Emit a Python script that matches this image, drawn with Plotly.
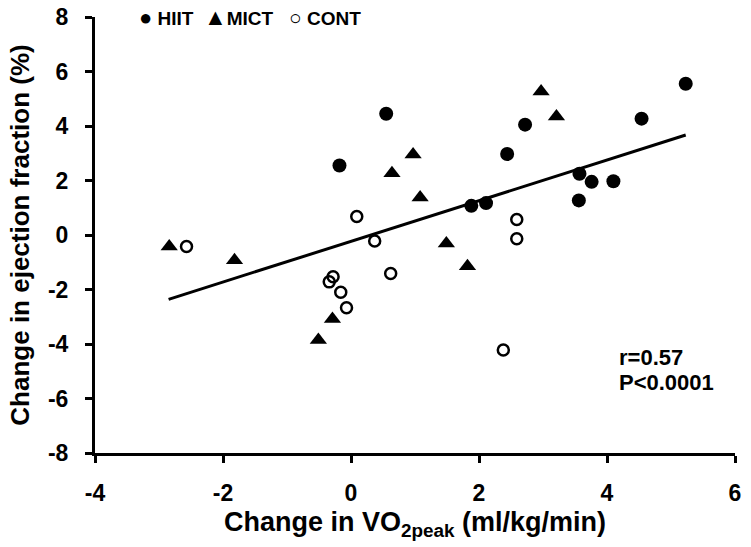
import plotly.graph_objects as go

# HIIT (filled circles)
hiit_x = [0.55, -0.18, 5.23, 2.72, 4.54, 2.44, 3.57, 3.76, 4.10, 3.56, 1.88, 2.11]
hiit_y = [4.45, 2.55, 5.55, 4.05, 4.27, 2.97, 2.25, 1.95, 1.97, 1.27, 1.07, 1.17]

# MICT (filled triangles)
mict_x = [0.97, 0.64, 1.08, -2.84, -1.82, 1.49, 2.97, 3.21, 1.82, -0.29, -0.51]
mict_y = [2.95, 2.27, 1.38, -0.42, -0.93, -0.31, 5.27, 4.35, -1.15, -3.08, -3.85]

# CONT (open circles)
cont_x = [0.09, -2.57, 0.37, 0.62, -0.28, -0.34, -0.16, -0.07, 2.59, 2.59, 2.38]
cont_y = [0.68, -0.42, -0.22, -1.41, -1.53, -1.72, -2.10, -2.67, 0.57, -0.14, -4.22]

# regression line endpoints
fit_x = [-2.85, 5.23]
fit_y = [-2.36, 3.67]

x_ticks = [-4, -2, 0, 2, 4, 6]
y_ticks = [-8, -6, -4, -2, 0, 2, 4, 6, 8]

legend_symbols = ["●", "▲", "○"]
legend_names = ["HIIT", "MICT", "CONT"]

FONT = "Liberation Sans, Arial, sans-serif"

fig = go.Figure()
fig.add_trace(go.Scatter(x=fit_x, y=fit_y, mode="lines",
                         line=dict(color="black", width=3), showlegend=False))
fig.add_trace(go.Scatter(x=hiit_x, y=hiit_y, mode="markers", name="HIIT",
                         marker=dict(symbol="circle", size=14, color="black")))
fig.add_trace(go.Scatter(x=mict_x, y=mict_y, mode="markers", name="MICT",
                         marker=dict(symbol="triangle-up", size=15, color="black")))
fig.add_trace(go.Scatter(x=cont_x, y=cont_y, mode="markers", name="CONT",
                         marker=dict(symbol="circle-open", size=11, color="black",
                                     line=dict(width=2.5, color="black"))))

# legend row (symbols + names as text, as in the original)
sym_sizes = [22, 23, 21]
seps = [" ", "", " "]
for sym, nm, ss, sep, px in zip(legend_symbols, legend_names, sym_sizes, seps,
                                [0.0656, 0.1672, 0.3000]):
    fig.add_annotation(x=px, y=1.0, xref="paper", yref="paper", xanchor="left",
                       yanchor="middle",
                       text=f'<span style="font-size:{ss}px">{sym}</span>{sep}{nm}',
                       showarrow=False,
                       font=dict(family=FONT, size=19, color="black", weight="bold"))

fig.add_annotation(x=4.16, y=-4.51, xref="x", yref="y", xanchor="left", yanchor="middle",
                   text="r=0.57", showarrow=False,
                   font=dict(family=FONT, size=22, color="black", weight="bold"))
fig.add_annotation(x=4.16, y=-5.43, xref="x", yref="y", xanchor="left", yanchor="middle",
                   text="P<0.0001", showarrow=False,
                   font=dict(family=FONT, size=22, color="black", weight="bold"))

fig.update_layout(
    width=751, height=547,
    margin=dict(l=95, r=16, t=17, b=94, autoexpand=False),
    paper_bgcolor="white", plot_bgcolor="white",
    showlegend=False,
    font=dict(family=FONT, color="black", weight="bold"),
    xaxis=dict(range=[-4, 6], tickvals=x_ticks, ticktext=[str(v) for v in x_ticks],
               showgrid=False, zeroline=False, showline=True, linecolor="black",
               linewidth=3, ticks="outside", ticklen=7, tickwidth=2.5, tickcolor="black",
               ticklabelstandoff=10, automargin=False,
               tickfont=dict(family=FONT, size=23, color="black", weight="bold"),
               title=dict(text="Change in VO<sub>2peak</sub> (ml/kg/min)",
                          font=dict(family=FONT, size=27, color="black", weight="bold"),
                          standoff=8)),
    yaxis=dict(range=[-8, 8], tickvals=y_ticks, ticktext=[str(v) for v in y_ticks],
               showgrid=False, zeroline=False, showline=True, linecolor="black",
               linewidth=3, ticks="outside", ticklen=7, tickwidth=2.5, tickcolor="black",
               ticklabelstandoff=12, automargin=False,
               tickfont=dict(family=FONT, size=23, color="black", weight="bold"),
               title=dict(text="Change in ejection fraction (%)",
                          font=dict(family=FONT, size=26, color="black", weight="bold"),
                          standoff=11)),
)

fig.write_html("out.html", config={"displayModeBar": False},
               post_script="document.body.style.margin='0px';")
